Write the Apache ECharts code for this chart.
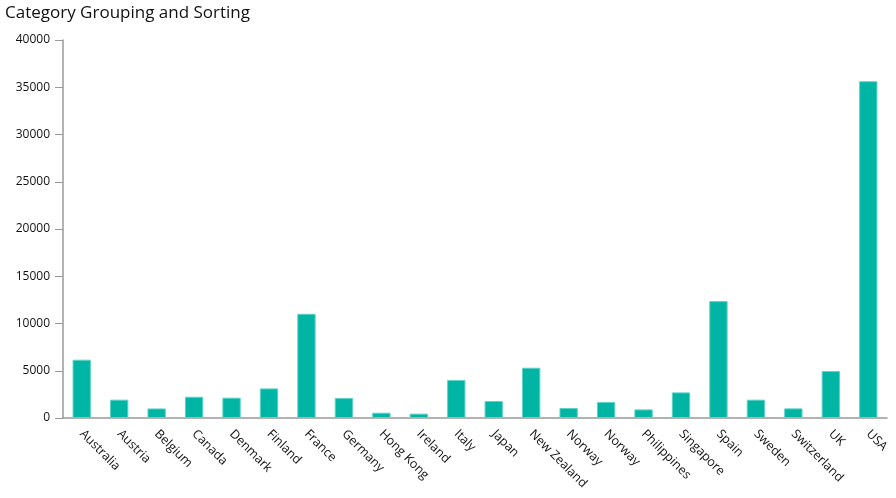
<!DOCTYPE html>
<html>
<head>
<meta charset="utf-8">
<script src="https://cdn.jsdelivr.net/npm/echarts@6/dist/echarts.min.js"></script>
<style>
html,body{margin:0;padding:0;background:#fff;}
#chart{width:896px;height:498px;}
</style>
</head>
<body>
<div id="chart"></div>
<script>
const categories = ["Australia","Austria","Belgium","Canada","Denmark","Finland","France","Germany","Hong Kong","Ireland","Italy","Japan","New Zealand","Norway","Norway","Philippines","Singapore","Spain","Sweden","Switzerland","UK","USA"];
const values = [6170, 1940, 1010, 2250, 2150, 3130, 11030, 2110, 560, 460, 4020, 1800, 5320, 1060, 1690, 910, 2710, 12370, 1940, 1020, 4970, 35640];
const yTicks = { min: 0, max: 40000, interval: 5000 };

const chart = echarts.init(document.getElementById('chart'), null, {renderer: 'canvas'});
const font = "'Open Sans', 'Noto Sans', sans-serif";
chart.setOption({
  animation: false,
  textStyle: { fontFamily: font },
  title: {
    text: 'Category Grouping and Sorting',
    left: 0, top: 0,
    textStyle: { fontFamily: font, fontSize: 17, fontWeight: 'normal', color: '#111' }
  },
  grid: { left: 63, right: 9, top: 40, bottom: 80, containLabel: false },
  xAxis: {
    type: 'category',
    data: categories,
    axisLine: { lineStyle: { color: '#999', width: 1.5 } },
    axisTick: { alignWithLabel: true, length: 8, lineStyle: { color: '#999' } },
    axisLabel: { rotate: -45, interval: 0, margin: 14, fontSize: 12.5, color: '#111', fontFamily: font }
  },
  yAxis: {
    type: 'value',
    min: yTicks.min, max: yTicks.max, interval: yTicks.interval,
    axisLine: { show: true, lineStyle: { color: '#999', width: 1.5 } },
    axisTick: { show: true, length: 8, lineStyle: { color: '#999' } },
    splitLine: { show: false },
    axisLabel: { margin: 13, fontSize: 12, color: '#111', fontFamily: font, formatter: v => String(v) }
  },
  series: [{
    type: 'bar',
    data: values,
    barWidth: '49%',
    itemStyle: { color: '#01b5a4', borderColor: '#5fd3c8', borderWidth: 1 }
  }]
});
</script>
</body>
</html>
